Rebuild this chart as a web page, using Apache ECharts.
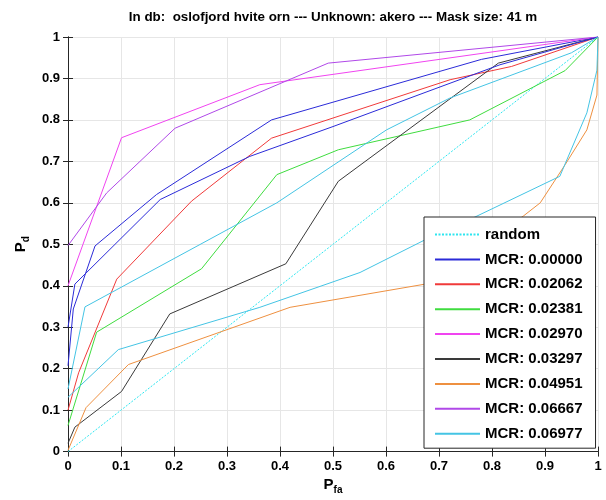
<!DOCTYPE html>
<html>
<head>
<meta charset="utf-8">
<script src="https://cdn.jsdelivr.net/npm/echarts@6/dist/echarts.min.js"></script>
<style>
  html, body { margin: 0; padding: 0; background: #fff; }
  #chart { width: 606px; height: 500px; }
</style>
</head>
<body>
<div id="chart"></div>
<script>
// values (P_fa on x, P_d on y)
var titleText = 'In db:  oslofjord hvite orn --- Unknown: akero --- Mask size: 41 m'
var tickValues = [0, 0.1, 0.2, 0.3, 0.4, 0.5, 0.6, 0.7, 0.8, 0.9, 1]

var randomX = [0, 1]
var randomY = [0, 1]

var mcr00000X = [0, 0.01, 0.051, 0.167, 0.384, 0.78, 1]
var mcr00000Y = [0.207, 0.344, 0.496, 0.62, 0.80, 0.946, 1]

var mcr02062X = [0, 0.02, 0.092, 0.233, 0.384, 0.721, 0.837, 1]
var mcr02062Y = [0.10, 0.19, 0.416, 0.604, 0.756, 0.897, 0.929, 1]

var mcr02381X = [0, 0.054, 0.252, 0.394, 0.51, 0.758, 0.938, 1]
var mcr02381Y = [0.063, 0.288, 0.441, 0.668, 0.728, 0.80, 0.919, 1]

var mcr02970X = [0, 0.101, 0.362, 1]
var mcr02970Y = [0.40, 0.757, 0.885, 1]

var mcr03297X = [0, 0.013, 0.101, 0.192, 0.411, 0.51, 0.812, 1]
var mcr03297Y = [0.02, 0.059, 0.145, 0.332, 0.453, 0.652, 0.937, 1]

var mcr04951X = [0, 0.034, 0.114, 0.419, 0.674, 0.859, 0.891, 0.938, 0.979, 0.998, 1]
var mcr04951Y = [0.003, 0.106, 0.21, 0.348, 0.404, 0.568, 0.60, 0.692, 0.776, 0.86, 1]

var mcr06667X = [0, 0.073, 0.202, 0.491, 1]
var mcr06667Y = [0.497, 0.624, 0.78, 0.937, 1]

var mcr06977X = [0, 0.095, 0.362, 0.551, 0.674, 0.765, 0.928, 0.979, 0.998, 1]
var mcr06977Y = [0.131, 0.246, 0.348, 0.432, 0.511, 0.564, 0.664, 0.817, 0.92, 1]

// the two extra curves that reuse the blue and light blue colours
var extraBlueX = [0, 0.013, 0.174, 0.343, 0.5, 0.815, 1]
var extraBlueY = [0.30, 0.404, 0.608, 0.712, 0.784, 0.933, 1]

var extraCyanX = [0, 0.032, 0.394, 0.601, 0.721, 0.95, 1]
var extraCyanY = [0.151, 0.349, 0.60, 0.776, 0.853, 0.962, 1]

function pairs(xs, ys) {
  return xs.map(function (x, i) { return [x, ys[i]] })
}

var chart = echarts.init(document.getElementById('chart'))

var fontFam = 'Liberation Sans'

function curve(name, xs, ys, color, dotted) {
  return {
    name: name,
    type: 'line',
    data: pairs(xs, ys),
    symbol: 'none',
    silent: true,
    z: 3,
    lineStyle: { color: color, width: 1, type: dotted ? [2, 1.5] : 'solid' },
    itemStyle: { color: color }
  }
}

var legendNames = ['random', 'MCR: 0.00000', 'MCR: 0.02062', 'MCR: 0.02381', 'MCR: 0.02970',
  'MCR: 0.03297', 'MCR: 0.04951', 'MCR: 0.06667', 'MCR: 0.06977']

var boxAxis = {
  type: 'value',
  min: 0,
  max: 1,
  interval: 0.1,
  axisLine: { show: true, lineStyle: { color: '#262626', width: 1 } },
  axisTick: { show: true, inside: true, length: 5, lineStyle: { color: '#262626' } },
  axisLabel: { show: false },
  splitLine: { show: false }
}

var subName = {
  rich: {
    a: { fontSize: 15, fontWeight: 'bold', fontFamily: fontFam, color: '#000' },
    b: { fontSize: 10, fontWeight: 'bold', fontFamily: fontFam, color: '#000', padding: [10, 0, 0, 0] }
  }
}

var tickLabel = {
  margin: 8,
  fontSize: 13,
  fontWeight: 'bold',
  fontFamily: fontFam,
  color: '#000',
  formatter: function (v) { return String(+v.toFixed(1)) }
}

chart.setOption({
  animation: false,
  title: {
    text: titleText,
    left: 328,
    textAlign: 'center',
    top: 6,
    textStyle: { fontSize: 13.4, fontWeight: 'bold', fontFamily: fontFam, color: '#000' }
  },
  legend: {
    data: legendNames,
    orient: 'vertical',
    left: 424,
    top: 217,
    padding: [10, 13, 7, 10],
    itemWidth: 45,
    itemHeight: 14,
    itemGap: 9.9,
    backgroundColor: '#fff',
    borderColor: '#262626',
    borderWidth: 1,
    borderRadius: 0,
    itemStyle: { opacity: 0 },
    textStyle: { fontSize: 15, fontWeight: 'bold', fontFamily: fontFam, color: '#000' }
  },
  grid: { left: 68, right: 8, top: 37, bottom: 47 },
  xAxis: [
    {
      type: 'value',
      min: 0,
      max: 1,
      interval: 0.1,
      name: '{a|P}{b|fa}',
      nameLocation: 'middle',
      nameGap: 21,
      nameTextStyle: subName,
      axisLine: { show: true, lineStyle: { color: '#262626', width: 1 } },
      axisTick: { show: true, inside: true, length: 5, lineStyle: { color: '#262626' } },
      axisLabel: tickLabel,
      splitLine: { show: true, lineStyle: { color: '#e6e6e6', width: 1 } }
    },
    Object.assign({}, boxAxis, { position: 'top' })
  ],
  yAxis: [
    {
      type: 'value',
      min: 0,
      max: 1,
      interval: 0.1,
      name: '{a|P}{b|d}',
      nameLocation: 'middle',
      nameGap: 33,
      nameRotate: 90,
      nameTextStyle: subName,
      axisLine: { show: true, lineStyle: { color: '#262626', width: 1 } },
      axisTick: { show: true, inside: true, length: 5, lineStyle: { color: '#262626' } },
      axisLabel: tickLabel,
      splitLine: { show: true, lineStyle: { color: '#e6e6e6', width: 1 } }
    },
    Object.assign({}, boxAxis, { position: 'right' })
  ],
  series: [
    curve('random', randomX, randomY, '#2ee6f0', true),
    curve('MCR: 0.00000', mcr00000X, mcr00000Y, '#2b2bd8'),
    curve('MCR: 0.02062', mcr02062X, mcr02062Y, '#f03a3a'),
    curve('MCR: 0.02381', mcr02381X, mcr02381Y, '#3fdc3f'),
    curve('MCR: 0.02970', mcr02970X, mcr02970Y, '#f044f0'),
    curve('MCR: 0.03297', mcr03297X, mcr03297Y, '#3a3a3a'),
    curve('MCR: 0.04951', mcr04951X, mcr04951Y, '#ee9040'),
    curve('MCR: 0.06667', mcr06667X, mcr06667Y, '#b048e8'),
    curve('MCR: 0.06977', mcr06977X, mcr06977Y, '#44c4e4'),
    curve('extra blue', extraBlueX, extraBlueY, '#2b2bd8'),
    curve('extra light blue', extraCyanX, extraCyanY, '#44c4e4')
  ]
})
</script>
</body>
</html>
